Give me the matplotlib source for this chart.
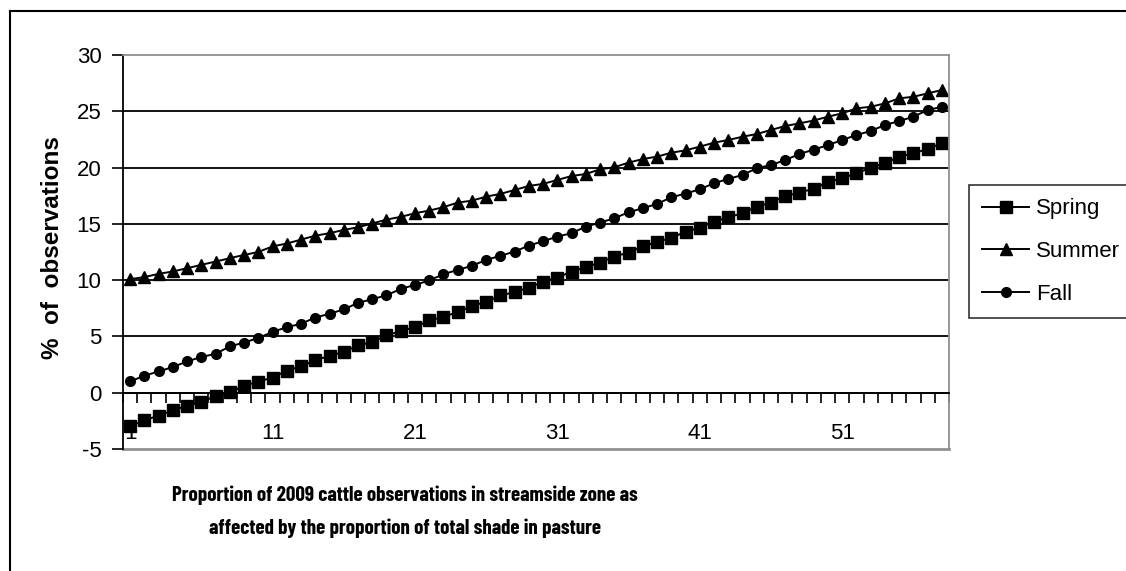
import numpy as np
import matplotlib.pyplot as plt
from matplotlib.lines import Line2D
from matplotlib.ticker import FixedLocator

plt.rcParams['font.family'] = ['Liberation Sans', 'DejaVu Sans']

# categories 1..58 along the x axis
categories = list(range(1, 59))

spring = [-2.99, -2.45, -2.04, -1.57, -1.15, -0.86, -0.27, 0.03, 0.62, 0.98,
          1.35, 1.95, 2.34, 2.87, 3.28, 3.61, 4.20, 4.50, 5.09, 5.47,
          5.83, 6.42, 6.74, 7.16, 7.72, 8.05, 8.64, 8.93, 9.34, 9.85,
          10.23, 10.76, 11.15, 11.56, 12.10, 12.45, 13.00, 13.37, 13.78, 14.28,
          14.67, 15.20, 15.59, 15.94, 16.53, 16.89, 17.48, 17.77, 18.13, 18.69,
          19.05, 19.49, 19.99, 20.38, 20.97, 21.27, 21.65, 22.16]

summer = [10.09, 10.27, 10.56, 10.77, 11.06, 11.36, 11.65, 11.95, 12.24, 12.50,
          13.00, 13.25, 13.60, 13.95, 14.17, 14.46, 14.70, 15.03, 15.38, 15.62,
          15.94, 16.18, 16.48, 16.89, 17.06, 17.42, 17.66, 18.01, 18.37, 18.55,
          18.90, 19.25, 19.43, 19.85, 20.03, 20.44, 20.76, 20.97, 21.32, 21.53,
          21.86, 22.21, 22.45, 22.74, 22.98, 23.34, 23.69, 23.93, 24.18, 24.52,
          24.82, 25.26, 25.40, 25.70, 26.15, 26.29, 26.59, 26.89]

fall = [1.00, 1.51, 1.89, 2.28, 2.78, 3.17, 3.46, 4.11, 4.46, 4.86,
        5.40, 5.82, 6.12, 6.68, 7.01, 7.40, 7.98, 8.31, 8.65, 9.22,
        9.58, 9.97, 10.53, 10.91, 11.27, 11.80, 12.16, 12.54, 13.07, 13.46,
        13.87, 14.17, 14.76, 15.11, 15.50, 16.03, 16.39, 16.77, 17.36, 17.69,
        18.07, 18.61, 18.99, 19.34, 19.94, 20.23, 20.67, 21.21, 21.59, 22.00,
        22.45, 22.89, 23.25, 23.78, 24.13, 24.52, 25.11, 25.40]

x_labels = ['1', '11', '21', '31', '41', '51']
y_ticks = [-5, 0, 5, 10, 15, 20, 25, 30]

W, H = 1126, 571
fig = plt.figure(figsize=(W / 100, H / 100), dpi=100)

# outer chart border (left and top visible, rest cut off)
fig.add_artist(Line2D([10 / W, 10 / W], [0, 1 - 11 / H], color='black', lw=1.5))
fig.add_artist(Line2D([10 / W, 1], [1 - 11 / H, 1 - 11 / H], color='black', lw=1.5))

ax = fig.add_axes([123 / W, (H - 449) / H, 826 / W, 394 / H])

ax.plot(categories, spring, color='black', lw=1.4, marker='s', ms=8, label='Spring')
ax.plot(categories, summer, color='black', lw=1.4, marker='^', ms=9, label='Summer')
ax.plot(categories, fall, color='black', lw=1.4, marker='o', ms=7, label='Fall')

ax.set_xlim(0.5, len(categories) + 0.5)
ax.set_ylim(-5, 30)

# y axis
ax.set_yticks(y_ticks)
ax.set_yticklabels([str(v) for v in y_ticks])
ax.tick_params(axis='y', direction='out', length=8, width=1.2, labelsize=16, pad=7.5)
ax.yaxis.grid(True, color='black', lw=1.3)
for val, gl in zip(y_ticks, ax.get_ygridlines()):
    if val in (-5, 30):
        gl.set_visible(False)

# x axis crosses at zero, tick marks between categories
ax.spines['bottom'].set_position(('data', 0))
ax.spines['bottom'].set_color('black')
ax.spines['bottom'].set_linewidth(1.3)
ax.xaxis.set_major_locator(FixedLocator([int(s) for s in x_labels]))
ax.set_xticklabels(x_labels)
ax.xaxis.set_minor_locator(FixedLocator(np.arange(0.5, len(categories) + 1, 1)))
ax.tick_params(axis='x', which='major', length=0, labelsize=16, pad=22)
ax.tick_params(axis='x', which='minor', direction='out', length=7, width=1.2)

ax.spines['left'].set_linewidth(1.3)
ax.spines['top'].set_color('#909090')
ax.spines['right'].set_color('#909090')
ax.spines['top'].set_linewidth(1.3)
ax.spines['right'].set_linewidth(1.3)
ax.axhline(-5, color='#909090', lw=2, clip_on=False, zorder=0)

ax.set_ylabel('%  of  observations', fontsize=17.5, fontweight='bold')
ax.yaxis.set_label_coords(-0.072, 0.51)

fig.text(405 / W, 1 - 512 / H,
         'Proportion of 2009 cattle observations in streamside zone as\n'
         'affected by the proportion of total shade in pasture',
         ha='center', va='center', fontsize=15.2, fontweight='bold',
         linespacing=1.85,
         family=['Barlow Condensed', 'Roboto Condensed', 'Liberation Sans'])

leg = ax.legend(loc='upper left', bbox_to_anchor=(969 / W, 1 - 185 / H),
                bbox_transform=fig.transFigure, frameon=True, fancybox=False,
                edgecolor='black', fontsize=16, handlelength=2.1, handletextpad=0.3,
                borderpad=0.6, labelspacing=0.98, borderaxespad=0)
leg.get_frame().set_linewidth(1.2)

fig.savefig('out.png', dpi=100)
